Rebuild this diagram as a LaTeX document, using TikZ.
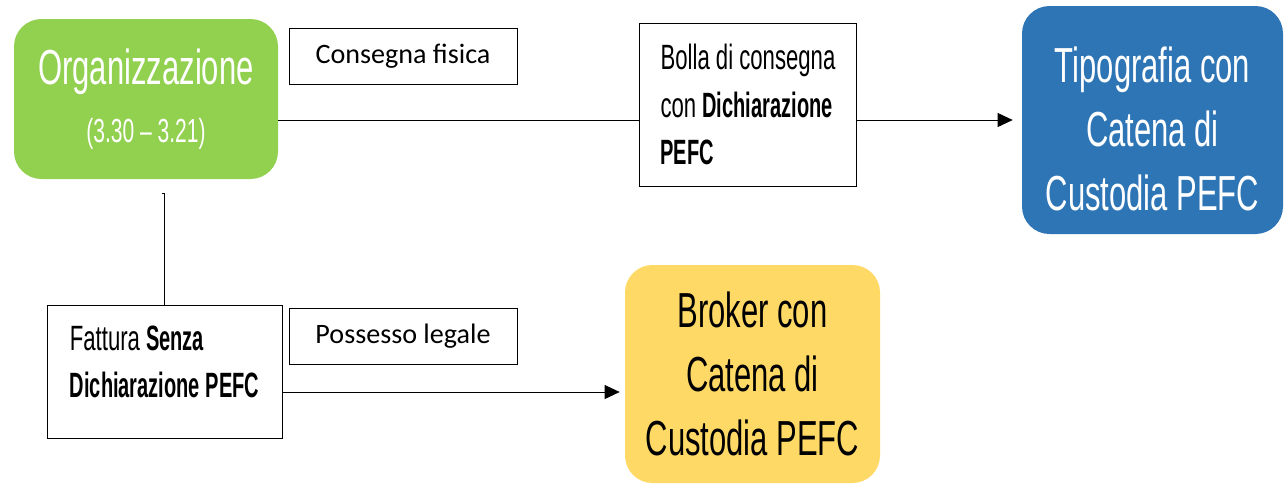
\documentclass[tikz,border=0pt]{standalone}
\usepackage{fontspec}
\usepackage{tikz}
\usepackage{xcolor}
\usetikzlibrary{arrows.meta, positioning}
\setmainfont{Carlito}
\newfontfamily\agency[FakeStretch=0.63]{Liberation Sans}
\newfontfamily\agencybold[FakeStretch=0.57]{Liberation Sans Bold}
\newcommand{\hl}[1]{{\agencybold #1}}
\definecolor{pefcgreen}{RGB}{146, 208, 80}
\definecolor{pefcblue}{RGB}{46, 117, 182}
\definecolor{pefcyellow}{RGB}{255, 217, 102}
\tikzstyle{actornode} = [rectangle, rounded corners=0.55cm, text centered, align=center, draw=none, inner sep=0pt]
\tikzstyle{labelnode} = [rectangle, draw=black, minimum width=4.56cm, minimum height=1.12cm, font=\fontsize{16}{19}\selectfont]
\tikzstyle{docnode} = [rectangle, draw=black, align=left, inner xsep=0.42cm, inner ysep=0pt, font=\agency\fontsize{20}{27}\selectfont]
\tikzstyle{arrow} = [->, >={Triangle[length=0.3cm, width=0.28cm]}]

\begin{document}
\begin{tikzpicture}
        \useasboundingbox (0,0) rectangle (25.76,-9.66);
        % Main components
        \node[actornode, fill=pefcgreen, text=white, minimum width=5.28cm, minimum height=3.2cm, font=\agency] (org) at (2.92,-1.98)
            {\fontsize{28}{36}\selectfont Organizzazione\\[12pt]\fontsize{19}{22}\selectfont (3.30 – 3.21)};
        \node[actornode, fill=pefcblue, text=white, minimum width=5.22cm, minimum height=4.56cm, font=\agency\fontsize{28}{36.5}\selectfont] (tipo) at (23.05,-2.4)
            {\\[-0.2cm]Tipografia con\\Catena di\\Custodia PEFC};
        \node[actornode, fill=pefcyellow, text=black, minimum width=5.1cm, minimum height=4.36cm, font=\agency\fontsize{28}{36.5}\selectfont] (broker) at (15.05,-7.48)
            {Broker con\\Catena di\\Custodia PEFC};

        % Documents
        \node[docnode, minimum width=4.32cm, minimum height=3.26cm] (bolla) at (14.96,-2.09)
            {Bolla di consegna\\con \hl{Dichiarazione}\\\hl{PEFC}};
        \node[docnode, minimum width=4.7cm, minimum height=2.66cm] (fattura) at (3.29,-7.43)
            {Fattura \hl{Senza}\\\hl{Dichiarazione PEFC}\\[-0.55cm]};

        % Labels
        \node[labelnode] (consegna) at (8.06,-1.12) {Consegna fisica};
        \node[labelnode] (possesso) at (8.06,-6.72) {Possesso legale};

        % Connections
        \coordinate (stub) at (3.26,-3.86);
        \draw (org.east |- tipo.west) -- (bolla.west |- tipo.west);
        \draw[arrow, shorten >=0.18cm] (bolla.east |- tipo.west) -- (tipo.west);
        \draw (fattura.north) -- (fattura.north |- stub) -- ++(-0.06,0);
        \draw[arrow, shorten >=0.1cm] (fattura.east |- 0,-7.84) -- (broker.west |- 0,-7.84);
    \end{tikzpicture}
\end{document}
